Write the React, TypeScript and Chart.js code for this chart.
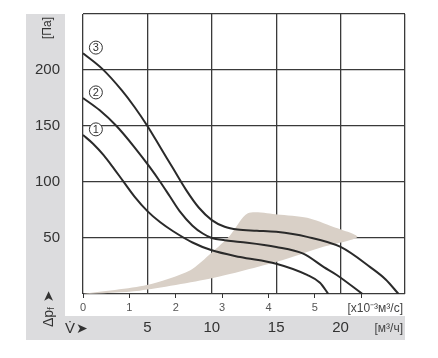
import React, { useEffect, useRef } from 'react';
import { Chart, registerables } from 'chart.js';

Chart.register(...registerables);

// Flow in m³/h, pressure in Pa
const curve1X = [0, 0.8, 1.6, 2.4, 3.1, 4.0, 5.0, 6.0, 7.0, 8.5, 10.0, 12.2, 15.0, 17.4, 18.4, 19.05];
const curve1Y = [142, 134, 124, 112, 101, 87, 74, 64, 56, 46, 39, 33, 27, 17, 10, 0];

const curve2X = [0, 1.3, 2.6, 4.0, 5.2, 6.0, 6.75, 7.5, 8.5, 9.3, 10.0, 11.0, 12.2, 15.0, 17.1, 18.7, 19.7, 21.7];
const curve2Y = [175, 164, 150, 131, 113, 100, 87, 74, 61, 54, 50, 48, 46.5, 42, 36, 24, 17, 0];

const curve3X = [0, 1.5, 3.0, 4.0, 5.0, 6.0, 7.0, 8.0, 9.0, 10.0, 11.0, 12.0, 13.5, 15.0, 17.4, 20.0, 22.3, 23.5, 24.5];
const curve3Y = [215, 201, 182, 167, 150, 131, 112, 93, 77, 66, 60, 57.5, 56.5, 55.5, 51, 42, 24, 13, 0];

// Operating range (closed outline: upper edge outward, lower edge back)
const shadeX = [0, 4.95, 8.3, 10.0, 11.4, 12.8, 15.1, 17.4, 19.4, 21.3, 18.6, 15.1, 10.0, 4.4, 0];
const shadeY = [0, 8, 21, 37, 52, 72, 71, 68, 60, 51, 42, 29, 14, 3, 0];

const curveNames = ['1', '2', '3'];
const pressureTicks = [50, 100, 150, 200];
const flowHourTicks = [5, 10, 15, 20];
const flowSecTicks = [0, 1, 2, 3, 4, 5];

const FONT = '"Liberation Sans", Arial, Helvetica, sans-serif';
const toPts = (xs: number[], ys: number[]) => xs.map((x, i) => ({ x, y: ys[i] }));

const curves = [
  toPts(curve1X, curve1Y),
  toPts(curve2X, curve2Y),
  toPts(curve3X, curve3Y),
];

const decorPlugin = {
  id: 'decor',
  beforeDraw(chart: any) {
    const ctx = chart.ctx;
    ctx.save();
    ctx.fillStyle = '#ffffff';
    ctx.fillRect(0, 0, chart.width, chart.height);
    ctx.fillStyle = '#dcdcde';
    ctx.fillRect(26, 14, 39, 326);
    ctx.fillRect(26, 316, 379, 24);
    ctx.restore();
  },
  afterDraw(chart: any) {
    const ctx = chart.ctx;
    const xs = chart.scales.x;
    const ys = chart.scales.y;
    ctx.save();
    ctx.fillStyle = '#333';
    // [Па]
    ctx.save();
    ctx.translate(48, 28);
    ctx.rotate(-Math.PI / 2);
    ctx.font = `12px ${FONT}`;
    ctx.textAlign = 'center';
    ctx.textBaseline = 'middle';
    ctx.fillText('[Па]', 0, 0);
    ctx.restore();
    // Δpf ➤
    ctx.save();
    ctx.translate(49, 327);
    ctx.rotate(-Math.PI / 2);
    ctx.textAlign = 'left';
    ctx.textBaseline = 'middle';
    ctx.font = `14px ${FONT}`;
    ctx.fillText('Δp', 0, 0);
    let w = ctx.measureText('Δp').width;
    ctx.font = `9px ${FONT}`;
    ctx.fillText('f', w, 3);
    w += ctx.measureText('f').width + 5;
    ctx.font = `14px "DejaVu Sans", sans-serif`;
    ctx.fillText('➤', w, 0);
    ctx.restore();
    // V̇ ➤
    ctx.textAlign = 'left';
    ctx.textBaseline = 'middle';
    ctx.font = `15px ${FONT}`;
    ctx.fillText('V̇', 65, 329);
    ctx.font = `14px "DejaVu Sans", sans-serif`;
    ctx.fillText('➤', 76, 329);
    // units
    ctx.textAlign = 'right';
    ctx.font = `12px ${FONT}`;
    ctx.fillStyle = '#444';
    ctx.fillText('[м³/ч]', 403, 329);
    ctx.fillText('[x10⁻³м³/с]', 403, 309);
    // circled curve numbers
    curves.forEach((pts, i) => {
      const cx = xs.getPixelForValue(1.0);
      const cy = ys.getPixelForValue(pts[0].y + 5);
      ctx.beginPath();
      ctx.arc(cx, cy, 6.5, 0, Math.PI * 2);
      ctx.fillStyle = '#fff';
      ctx.fill();
      ctx.lineWidth = 1;
      ctx.strokeStyle = '#333';
      ctx.stroke();
      ctx.fillStyle = '#333';
      ctx.font = `11px ${FONT}`;
      ctx.textAlign = 'center';
      ctx.textBaseline = 'middle';
      ctx.fillText(curveNames[i], cx, cy + 0.5);
    });
    ctx.restore();
  },
};

export default function App() {
  const ref = useRef<HTMLCanvasElement>(null);
  useEffect(() => {
    if (!ref.current) return;
    const gridColor = '#3a3a3a';
    const chart = new Chart(ref.current, {
      type: 'line',
      data: {
        datasets: [
          ...curves.map((pts, i) => ({
            label: curveNames[i],
            data: pts,
            borderColor: '#2a2a2a',
            borderWidth: 2,
            pointRadius: 0,
            fill: false,
            cubicInterpolationMode: 'monotone' as const,
            order: 1,
          })),
          {
            label: 'range',
            data: toPts(shadeX, shadeY),
            borderWidth: 0,
            borderColor: 'rgba(0,0,0,0)',
            backgroundColor: '#d9d0c7',
            pointRadius: 0,
            fill: 'shape',
            tension: 0.25,
            order: 5,
          },
        ],
      },
      options: {
        animation: false,
        responsive: false,
        layout: { padding: { left: 0, right: 33, top: 14, bottom: 18 } },
        plugins: { legend: { display: false }, tooltip: { enabled: false } },
        scales: {
          x: {
            type: 'linear',
            position: 'bottom',
            min: 0,
            max: 25,
            weight: 1,
            z: 1,
            ticks: {
              stepSize: 5,
              padding: 3,
              color: '#333',
              autoSkip: false,
              maxRotation: 0,
              font: { family: FONT, size: 15 },
              callback: (v: any) => (flowHourTicks.includes(Math.round(v)) ? String(Math.round(v)) : ''),
            },
            grid: { color: gridColor, lineWidth: 1.3, drawTicks: false },
            border: { display: false },
            afterFit: (s: any) => { s.height = 24; },
          },
          x2: {
            type: 'linear',
            position: 'bottom',
            min: 0,
            max: 25 / 3.6,
            weight: 0,
            ticks: {
              stepSize: 1,
              includeBounds: false,
              padding: 3,
              color: '#555',
              autoSkip: false,
              maxRotation: 0,
              font: { family: FONT, size: 11 },
              callback: (v: any) => (flowSecTicks.includes(Math.round(v)) ? String(Math.round(v)) : ''),
            },
            grid: { drawOnChartArea: false, drawTicks: true, tickLength: 4, color: '#333', lineWidth: 1 },
            border: { display: false },
            afterFit: (s: any) => { s.height = 22; },
          },
          y: {
            type: 'linear',
            min: 0,
            max: 250,
            z: 1,
            ticks: {
              stepSize: 50,
              padding: 0,
              color: '#333',
              font: { family: FONT, size: 15 },
              callback: (v: any) => (pressureTicks.includes(Math.round(v)) ? String(Math.round(v)) : ''),
            },
            grid: { color: gridColor, lineWidth: 1.3, drawTicks: true, tickLength: 23, tickColor: 'rgba(0,0,0,0)' },
            border: { display: false },
            afterFit: (s: any) => { s.width = 83; },
          },
        },
      },
      plugins: [decorPlugin],
    } as any);
    return () => chart.destroy();
  }, []);
  return (
    <div style={{ position: 'fixed', left: 0, top: 0, width: 438, height: 358 }}>
      <canvas ref={ref} width={438} height={358} />
    </div>
  );
}
